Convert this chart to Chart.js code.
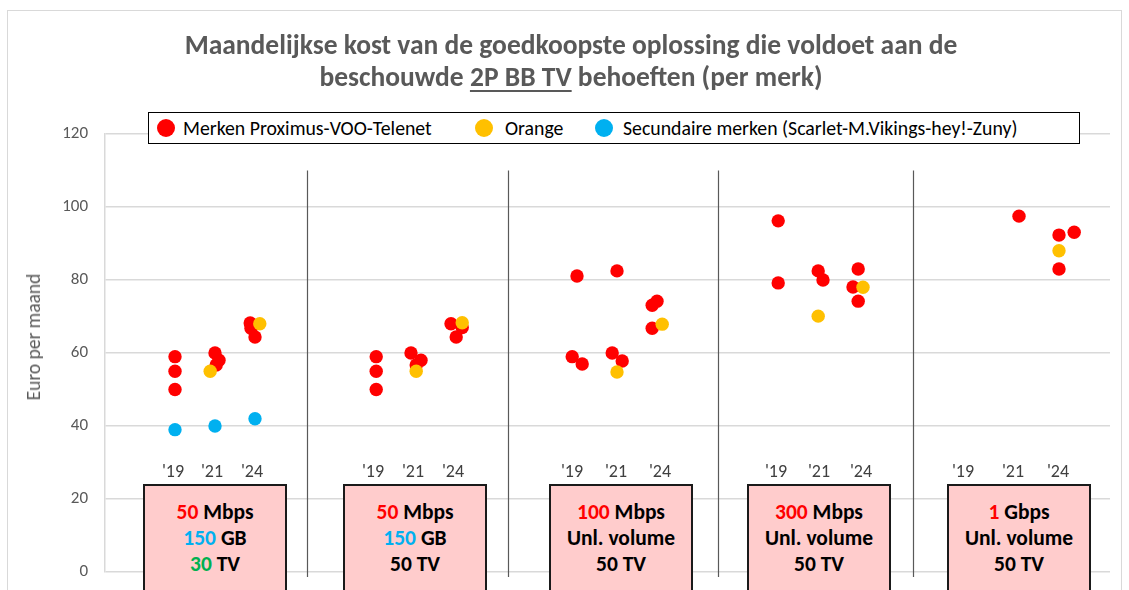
<!DOCTYPE html>
<html>
<head>
<meta charset="utf-8">
<script src="https://cdn.jsdelivr.net/npm/chart.js@4"></script>
<style>
    body { margin: 0; width: 1129px; height: 590px; overflow: hidden; background: #fff; position: relative;
           font-family: Carlito, Calibri, Lato, sans-serif; }
    #frame { position: absolute; left: 7px; top: 10px; width: 1113px; height: 600px; border: 1px solid #d9d9d9; }
    #chart { position: absolute; left: 0; top: 0; }
    .title { position: absolute; left: 0; width: 1142px; text-align: center; color: #595959; font-weight: bold; font-size: 27.5px;
             line-height: 32px; }
    .title u { text-decoration-thickness: 2px; text-underline-offset: 4px; }
    #legend { position: absolute; left: 148px; top: 112px; width: 930px; height: 30px; border: 1.5px solid #000; background: #fff;
              font-size: 19.8px; color: #000; }
    .leg { position: absolute; top: 3px; white-space: nowrap; line-height: 24px; }
    .dot { position: absolute; top: 6px; width: 18px; height: 18px; border-radius: 50%; }
    .year { position: absolute; top: 459px; font-size: 18px; line-height: 24px; color: #404040; transform: translateX(-50%); }
    .spec { position: absolute; top: 484px; width: 144px; height: 120px; background: #ffcccc; border: 2px solid #1a1a1a;
            text-align: center; font-weight: bold; font-size: 21.5px; line-height: 26px; padding-top: 13px; box-sizing: border-box; color: #000; }
    #ytitle { position: absolute; left: 33px; top: 337px; transform: translate(-50%, -50%) rotate(-90deg); white-space: nowrap;
              font-size: 19.5px; color: #595959; }
</style>
</head>
<body>
<div id="frame"></div>
<canvas id="chart" width="1129" height="590"></canvas>
<div class="title" style="top: 29px;">Maandelijkse kost van de goedkoopste oplossing die voldoet aan de</div>
<div class="title" style="top: 61px;">beschouwde <u>2P BB TV</u> behoeften (per merk)</div>
<div id="legend"></div>
<div id="ytitle">Euro per maand</div>
<div id="specs"></div>
<script>
// x = group * 5 + year slot ('19 = 0, '21 = 1, '24 = 2), small offsets as in the picture
const redPoints = [
    { x: 0, y: 59 }, { x: 0, y: 55 }, { x: 0, y: 50 },
    { x: 1.0, y: 60 }, { x: 1.1, y: 58 }, { x: 1.03, y: 56.7 },
    { x: 1.88, y: 68.2 }, { x: 1.9, y: 66.8 }, { x: 2.0, y: 64.4 },

    { x: 5.03, y: 59 }, { x: 5.03, y: 55 }, { x: 5.03, y: 50 },
    { x: 5.9, y: 60 }, { x: 6.15, y: 58 }, { x: 6.03, y: 56.7 },
    { x: 6.9, y: 68 }, { x: 7.18, y: 67 }, { x: 7.03, y: 64.4 },

    { x: 10.05, y: 81.1 }, { x: 9.93, y: 59 }, { x: 10.18, y: 57 },
    { x: 11.05, y: 82.5 }, { x: 10.93, y: 60 }, { x: 11.18, y: 57.8 },
    { x: 11.93, y: 73.1 }, { x: 12.05, y: 74.2 }, { x: 11.93, y: 66.8 },

    { x: 15.08, y: 96.2 }, { x: 15.08, y: 79.2 },
    { x: 16.08, y: 82.5 }, { x: 16.2, y: 80 },
    { x: 17.08, y: 83 }, { x: 16.95, y: 78.1 }, { x: 17.08, y: 74.2 },

    { x: 21.1, y: 97.5 },
    { x: 22.1, y: 92.3 }, { x: 22.48, y: 93.1 }, { x: 22.1, y: 83 }
];
const orangePoints = [
    { x: 0.88, y: 55 }, { x: 2.12, y: 68 },
    { x: 6.03, y: 55 }, { x: 7.18, y: 68.3 },
    { x: 11.05, y: 54.8 }, { x: 12.18, y: 67.9 },
    { x: 16.08, y: 70.1 }, { x: 17.2, y: 78 },
    { x: 22.1, y: 88 }
];
const bluePoints = [
    { x: 0, y: 39 }, { x: 1.0, y: 40 }, { x: 2.0, y: 42 }
];

const seriesNames = ['Merken Proximus-VOO-Telenet', 'Orange', 'Secundaire merken (Scarlet-M.Vikings-hey!-Zuny)'];
const seriesColors = ['#ff0000', '#ffc000', '#00b0f0'];
const yearLabels = ["'19", "'21", "'24"];
const yTicks = [0, 20, 40, 60, 80, 100, 120];
const separators = [3.3, 8.33, 13.58, 18.45];

// specification boxes: [number, rest, number colour] per line
const specLines = [
    [['50', ' Mbps', '#ff0000'], ['150', ' GB', '#00b0f0'], ['30', ' TV', '#00b050']],
    [['50', ' Mbps', '#ff0000'], ['150', ' GB', '#00b0f0'], ['', '50 TV', '']],
    [['100', ' Mbps', '#ff0000'], ['', 'Unl. volume', ''], ['', '50 TV', '']],
    [['300', ' Mbps', '#ff0000'], ['', 'Unl. volume', ''], ['', '50 TV', '']],
    [['1', ' Gbps', '#ff0000'], ['', 'Unl. volume', ''], ['', '50 TV', '']]
];

// page layout
const specLeft = [143, 343, 549, 747, 947];
const yearX = [[173, 212, 252], [373, 413, 453], [572, 616, 660], [776, 819, 861], [963, 1013, 1058]];
const legendPos = [[8, 34], [326, 356], [446, 474]];

const legend = document.getElementById('legend');
seriesNames.forEach((name, i) => {
    legend.innerHTML += `<span class="dot" style="left:${legendPos[i][0]}px;background:${seriesColors[i]}"></span>` +
        `<span class="leg" style="left:${legendPos[i][1]}px">${name}</span>`;
});

const specs = document.getElementById('specs');
specLines.forEach((lines, g) => {
    const html = lines.map(l => (l[0] ? `<span style="color:${l[2]}">${l[0]}</span>` : '') + l[1]).join('<br>');
    specs.innerHTML += `<div class="spec" style="left:${specLeft[g]}px">${html}</div>`;
    yearX[g].forEach((x, k) => {
        specs.innerHTML += `<div class="year" style="left:${x}px">${yearLabels[k]}</div>`;
    });
});

const separatorPlugin = {
    id: 'separators',
    beforeDatasetsDraw(chart) {
        const { ctx, scales: { x, y }, chartArea } = chart;
        ctx.save();
        ctx.strokeStyle = '#595959';
        ctx.lineWidth = 1.2;
        separators.forEach(v => {
            const px = Math.round(x.getPixelForValue(v)) + 0.5;
            ctx.beginPath();
            ctx.moveTo(px, y.getPixelForValue(110));
            ctx.lineTo(px, chartArea.bottom + 5);
            ctx.stroke();
        });
        ctx.restore();
    }
};

const pointStyle = (color, order) => ({
    backgroundColor: color,
    borderWidth: 0,
    pointRadius: 6.7,
    order: order
});

new Chart(document.getElementById('chart').getContext('2d'), {
    type: 'scatter',
    data: {
        datasets: [
            { label: seriesNames[0], data: redPoints, ...pointStyle(seriesColors[0], 1) },
            { label: seriesNames[1], data: orangePoints, ...pointStyle(seriesColors[1], 0) },
            { label: seriesNames[2], data: bluePoints, ...pointStyle(seriesColors[2], 2) }
        ]
    },
    options: {
        responsive: false,
        animation: false,
        layout: { padding: { top: 134, bottom: 18, right: 19, left: 0 } },
        plugins: { legend: { display: false }, tooltip: { enabled: false } },
        scales: {
            x: { type: 'linear', min: -1.75, max: 23.375, display: false },
            y: {
                min: 0,
                max: 120,
                afterFit: (scale) => {
                    scale.width = 105;
                    scale.paddingTop = 0;
                    scale.paddingBottom = 0;
                },
                afterBuildTicks: (scale) => { scale.ticks = yTicks.map(v => ({ value: v })); },
                ticks: { padding: 17, color: '#595959', font: { family: 'Carlito, Calibri, Lato, sans-serif', size: 17 } },
                grid: { color: '#d9d9d9', lineWidth: 1.5, drawTicks: false },
                border: { color: '#d9d9d9', width: 1.5 }
            }
        }
    },
    plugins: [separatorPlugin]
});
</script>
</body>
</html>
